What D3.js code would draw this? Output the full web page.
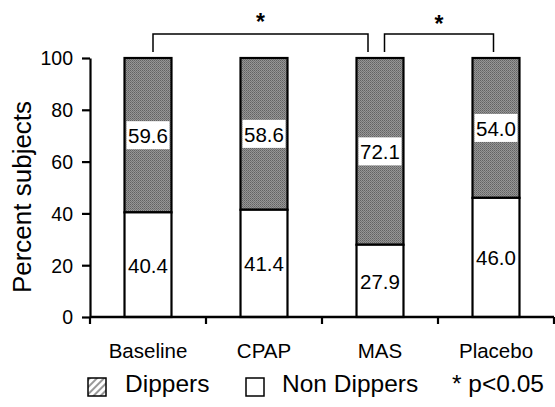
<!DOCTYPE html>
<html>
<head>
<meta charset="utf-8">
<script src="https://cdn.jsdelivr.net/npm/d3@7"></script>
<style>
  html, body { margin: 0; padding: 0; background: #fff; }
  svg { display: block; font-family: "Liberation Sans", Arial, sans-serif; }
</style>
</head>
<body>
<svg id="chart" width="555" height="407"></svg>
<script>
// data
const groups = ["Baseline", "CPAP", "MAS", "Placebo"];
const nonDippers = [40.4, 41.4, 27.9, 46.0];
const dippers = [59.6, 58.6, 72.1, 54.0];
const yTicks = [0, 20, 40, 60, 80, 100];
const comparisons = [["Baseline", "MAS"], ["MAS", "Placebo"]];

const svg = d3.select("#chart");

const x = d3.scaleBand().domain(groups).range([90, 554])
  .paddingInner(0.595).paddingOuter(0.2975);
const y = d3.scaleLinear().domain([0, 100]).range([317, 58]);

// patterns
const defs = svg.append("defs");
const grain = defs.append("pattern").attr("id", "grain")
  .attr("width", 2).attr("height", 2).attr("patternUnits", "userSpaceOnUse");
grain.append("rect").attr("width", 2).attr("height", 2).attr("fill", "#969696");
grain.append("rect").attr("width", 1).attr("height", 1).attr("fill", "#626262");
grain.append("rect").attr("x", 1).attr("y", 1).attr("width", 1).attr("height", 1).attr("fill", "#747474");

const hatch = defs.append("pattern").attr("id", "hatch")
  .attr("width", 5).attr("height", 5).attr("patternUnits", "userSpaceOnUse")
  .attr("patternTransform", "rotate(45)");
hatch.append("rect").attr("width", 5).attr("height", 5).attr("fill", "#fff");
hatch.append("rect").attr("width", 2).attr("height", 5).attr("fill", "#999");

// bars
const rows = groups.map((g, i) => ({ g, non: nonDippers[i], dip: dippers[i] }));
const bar = svg.append("g").selectAll("g").data(rows).join("g");

bar.append("rect")
  .attr("x", d => x(d.g)).attr("width", x.bandwidth())
  .attr("y", d => y(d.non + d.dip)).attr("height", d => y(d.non) - y(d.non + d.dip))
  .attr("fill", "url(#grain)").attr("stroke", "#000").attr("stroke-width", 2.2);
bar.append("rect")
  .attr("x", d => x(d.g)).attr("width", x.bandwidth())
  .attr("y", d => y(d.non)).attr("height", d => y(0) - y(d.non))
  .attr("fill", "#fff").attr("stroke", "#000").attr("stroke-width", 2.2);

// value labels
function label(sel, lo, hi, v) {
  sel.each(function(d) {
    const g = d3.select(this);
    const cy = y((lo(d) + hi(d)) / 2);
    const cx = x(d.g) + x.bandwidth() / 2;
    g.append("rect").attr("x", cx - 21.5).attr("y", cy - 14).attr("width", 43).attr("height", 28)
      .attr("fill", "#fff");
    g.append("text").attr("x", cx).attr("y", cy + 8).attr("text-anchor", "middle")
      .attr("font-size", 20.5).attr("fill", "#000").text(v(d).toFixed(1));
  });
}
label(bar, d => d.non, d => d.non + d.dip, d => d.dip);
label(bar, d => 0, d => d.non, d => d.non);

// y axis
const yAxis = svg.append("g").attr("transform", "translate(90,0)")
  .call(d3.axisLeft(y).tickValues(yTicks).tickSize(8).tickSizeOuter(0).tickPadding(9));
yAxis.select(".domain").attr("stroke-width", 2.2);
yAxis.selectAll(".tick line").attr("stroke-width", 2.2);
yAxis.selectAll(".tick text").attr("font-size", 19.5).attr("font-family", "Liberation Sans, Arial, sans-serif")
  .attr("dy", "0.35em");

// x axis: ticks at band boundaries
const step = x.step();
const bounds = d3.range(groups.length + 1).map(i => 90 + i * step);
svg.append("line").attr("x1", 90).attr("x2", 554).attr("y1", y(0)).attr("y2", y(0))
  .attr("stroke", "#000").attr("stroke-width", 2.5);
svg.append("g").selectAll("line").data(bounds).join("line")
  .attr("x1", d => d).attr("x2", d => d).attr("y1", y(0)).attr("y2", y(0) + 7)
  .attr("stroke", "#000").attr("stroke-width", 2.2);
svg.append("g").selectAll("text").data(groups).join("text")
  .attr("x", d => x(d) + x.bandwidth() / 2).attr("y", 358)
  .attr("text-anchor", "middle").attr("font-size", 20.5).text(d => d);

// axis title
svg.append("text").attr("transform", "translate(31,197) rotate(-90)")
  .attr("text-anchor", "middle").attr("font-size", 26).text("Percent subjects");

// significance brackets
const brTop = 34, brBot = 52;
const offsets = [[5, -12], [4.5, -2.5]];
comparisons.forEach(([a, b], i) => {
  const x1 = x(a) + x.bandwidth() / 2 + offsets[i][0];
  const x2 = x(b) + x.bandwidth() / 2 + offsets[i][1];
  svg.append("path")
    .attr("d", `M${x1},${brBot}V${brTop}H${x2}V${brBot}`)
    .attr("fill", "none").attr("stroke", "#000").attr("stroke-width", 1.5);
  svg.append("text").attr("x", (x1 + x2) / 2).attr("y", 30 + i * 2)
    .attr("text-anchor", "middle").attr("font-size", 23).attr("font-weight", "bold").text("*");
});

// legend
const lg = svg.append("g");
lg.append("rect").attr("x", 88).attr("y", 378).attr("width", 18).attr("height", 18)
  .attr("fill", "url(#hatch)").attr("stroke", "#000").attr("stroke-width", 1.5);
lg.append("text").attr("x", 125).attr("y", 392).attr("font-size", 24.5).text("Dippers");
lg.append("rect").attr("x", 246).attr("y", 378).attr("width", 18).attr("height", 18)
  .attr("fill", "#fff").attr("stroke", "#000").attr("stroke-width", 1.5);
lg.append("text").attr("x", 282).attr("y", 392).attr("font-size", 24.5).text("Non Dippers");
lg.append("text").attr("x", 452).attr("y", 392).attr("font-size", 24.5).text("* p<0.05");
</script>
</body>
</html>
